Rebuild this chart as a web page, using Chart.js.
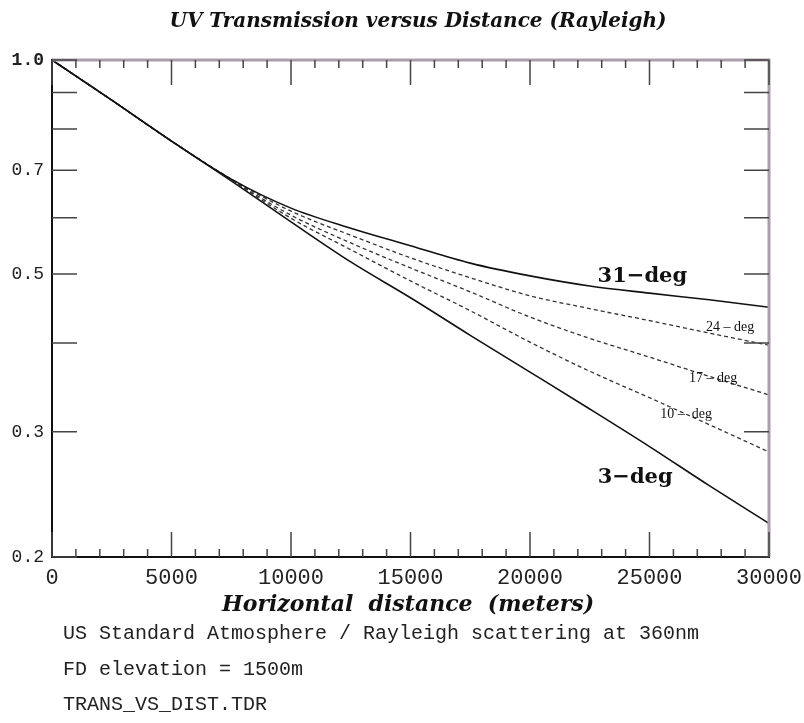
<!DOCTYPE html>
<html>
<head>
<meta charset="utf-8">
<script src="https://cdn.jsdelivr.net/npm/chart.js@4.4.1/dist/chart.umd.min.js"></script>
<style>
  body { margin: 0; background: #fff; }
  canvas { display: block; }
</style>
</head>
<body>
<canvas id="trans" width="804" height="723"></canvas>
<script>
// horizontal distance (m)
var distances = [0, 2500, 5000, 7500, 10000, 12500, 15000, 17500, 20000, 22500, 25000, 27500, 30000];

// transmission per elevation angle
var trans31 = [1.0, 0.878, 0.769, 0.680, 0.619, 0.580, 0.548, 0.518, 0.497, 0.481, 0.470, 0.460, 0.449];
var trans24 = [1.0, 0.878, 0.769, 0.680, 0.613, 0.567, 0.527, 0.494, 0.466, 0.447, 0.430, 0.413, 0.397];
var trans17 = [1.0, 0.878, 0.769, 0.679, 0.605, 0.553, 0.510, 0.472, 0.435, 0.406, 0.382, 0.359, 0.338];
var trans10 = [1.0, 0.878, 0.769, 0.678, 0.599, 0.541, 0.489, 0.444, 0.401, 0.365, 0.335, 0.307, 0.281];
var trans3  = [1.0, 0.878, 0.769, 0.676, 0.592, 0.520, 0.463, 0.410, 0.364, 0.323, 0.286, 0.252, 0.223];

var yTickLabels = [0.2, 0.3, 0.5, 0.7, 1.0];
var yMinorTicks = [0.2, 0.3, 0.4, 0.5, 0.6, 0.7, 0.8, 0.9, 1.0];
var xMinorTicks = [];
for (var i = 0; i <= 30; i++) xMinorTicks.push(i * 1000);

var notes = [
  "US Standard Atmosphere / Rayleigh scattering at 360nm",
  "FD elevation = 1500m",
  "TRANS_VS_DIST.TDR"
];

// curve labels in data coords
var curveLabels = [
  { text: "31\u2212deg", x: 24700, y: 0.496, big: true },
  { text: "24 \u2013 deg", x: 28370, y: 0.421, big: false },
  { text: "17 \u2013 deg", x: 27660, y: 0.357, big: false },
  { text: "10 \u2013  deg", x: 26530, y: 0.317, big: false },
  { text: "3\u2212deg", x: 24400, y: 0.259, big: true }
];

function pts(vals) {
  return distances.map(function(d, i) { return { x: d, y: vals[i] }; });
}

function ds(label, vals, dash, color, w) {
  return {
    label: label,
    data: pts(vals),
    borderColor: color,
    borderWidth: w,
    borderDash: dash,
    pointRadius: 0,
    fill: false,
    cubicInterpolationMode: "monotone"
  };
}

// drop the label overhang padding so the plot box is set by layout.padding only
function noPad(s) {
  s.paddingLeft = 0; s.paddingRight = 0;
  s.paddingTop = 0; s.paddingBottom = 0;
}

var frameAndText = {
  id: "frameAndText",
  afterDatasetsDraw: function(chart) {
    var ctx = chart.ctx, a = chart.chartArea;
    var x = chart.scales.x, y = chart.scales.y;
    ctx.save();

    // top / right frame
    ctx.strokeStyle = "#a99cab";
    ctx.lineWidth = 3;
    ctx.beginPath();
    ctx.moveTo(a.left, a.top);
    ctx.lineTo(a.right, a.top);
    ctx.lineTo(a.right, a.bottom);
    ctx.stroke();

    // inward ticks
    ctx.strokeStyle = "#444";
    ctx.lineWidth = 1.5;
    ctx.beginPath();
    xMinorTicks.forEach(function(v) {
      var px = x.getPixelForValue(v);
      var len = v % 5000 === 0 ? 25 : 8;
      ctx.moveTo(px, a.bottom); ctx.lineTo(px, a.bottom - len);
      ctx.moveTo(px, a.top); ctx.lineTo(px, a.top + len);
    });
    yMinorTicks.forEach(function(v) {
      var py = y.getPixelForValue(v);
      ctx.moveTo(a.left, py); ctx.lineTo(a.left + 25, py);
      ctx.moveTo(a.right, py); ctx.lineTo(a.right - 25, py);
    });
    ctx.stroke();

    // curve labels
    ctx.fillStyle = "#111";
    ctx.textAlign = "center";
    ctx.textBaseline = "middle";
    curveLabels.forEach(function(l) {
      ctx.font = l.big ? 'bold 21px "DejaVu Serif"' : '14px "Liberation Serif"';
      ctx.fillText(l.text, x.getPixelForValue(l.x), y.getPixelForValue(l.y));
    });

    // title and x-axis title
    ctx.font = 'bold italic 20px "DejaVu Serif"';
    ctx.fillText("UV Transmission versus Distance (Rayleigh)", 418, 22);
    ctx.font = 'bold italic 22px "DejaVu Serif"';
    ctx.fillText("Horizontal  distance  (meters)", 408, 605);

    // footnotes
    ctx.textAlign = "left";
    ctx.font = '20px "Liberation Mono"';
    ctx.fillStyle = "#222";
    var ny = [634, 670, 705];
    notes.forEach(function(t, i) { ctx.fillText(t, 63, ny[i]); });
    ctx.restore();
  }
};

new Chart(document.getElementById("trans"), {
  type: "line",
  data: {
    datasets: [
      ds("31-deg", trans31, [], "#111", 1.6),
      ds("24-deg", trans24, [4, 3], "#333", 1.3),
      ds("17-deg", trans17, [4, 3], "#333", 1.3),
      ds("10-deg", trans10, [4, 3], "#333", 1.3),
      ds("3-deg", trans3, [], "#111", 1.6)
    ]
  },
  options: {
    responsive: false,
    animation: false,
    layout: { padding: { top: 60, right: 35, left: 0, bottom: 0 } },
    plugins: {
      legend: { display: false },
      title: { display: false },
      tooltip: { enabled: false }
    },
    scales: {
      x: {
        type: "linear",
        min: 0,
        max: 30000,
        ticks: {
          stepSize: 5000,
          maxRotation: 0,
          padding: 8,
          color: "#222",
          font: { family: "Liberation Mono", size: 22 },
          callback: function(v) { return String(v); }
        },
        grid: { drawOnChartArea: false, drawTicks: false, color: "rgba(0,0,0,0)" },
        border: { color: "#111", width: 2 },
        afterFit: function(s) { s.height = 166; noPad(s); }
      },
      y: {
        type: "logarithmic",
        min: 0.2,
        max: 1.0,
        afterBuildTicks: function(s) {
          s.ticks = yTickLabels.map(function(v) { return { value: v }; });
        },
        ticks: {
          padding: 8,
          color: "#222",
          font: function(c) {
            return { family: "Liberation Mono", size: 18, weight: c.tick && c.tick.value === 1 ? "bold" : "normal" };
          },
          callback: function(v) { return Number(v).toFixed(1); }
        },
        grid: { drawOnChartArea: false, drawTicks: false, color: "rgba(0,0,0,0)" },
        border: { color: "#111", width: 2 },
        afterFit: function(s) { s.width = 52; noPad(s); }
      }
    }
  },
  plugins: [frameAndText]
});
</script>
</body>
</html>
